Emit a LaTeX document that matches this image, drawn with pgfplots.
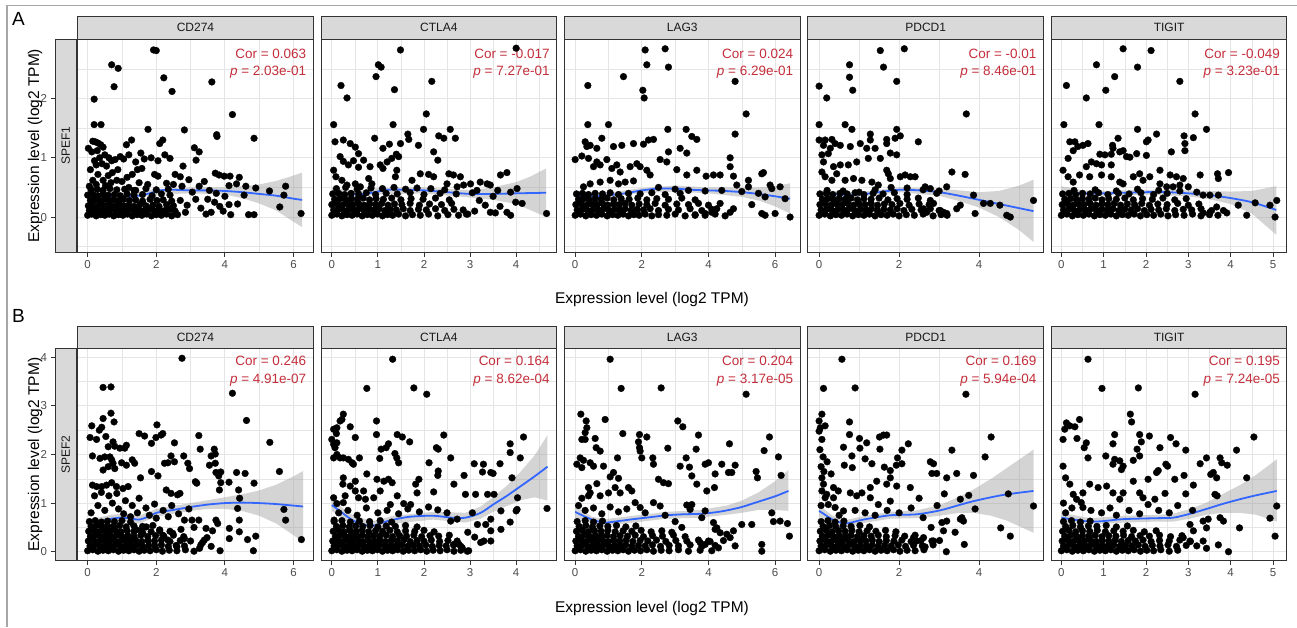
\documentclass[border=0pt]{standalone}
\usepackage{fontspec}
\setmainfont{Liberation Sans}
\usepackage{pgfplots}
\pgfplotsset{compat=1.18}

\definecolor{gg10}{gray}{0.1}
\definecolor{gg20}{gray}{0.2}
\definecolor{gg30}{gray}{0.3}
\definecolor{gg85}{gray}{0.85}
\definecolor{ggrid}{gray}{0.9}
\definecolor{gband}{gray}{0.6}
\definecolor{corred}{HTML}{C42F3C}
\definecolor{loess}{HTML}{3366FF}

\pgfplotsset{
  panel/.style={
    scale only axis, width=235.6pt, anchor=south west,
    axis line style={gg20, line width=0.9pt},
    grid=both,
    major grid style={ggrid, line width=0.9pt},
    minor grid style={ggrid, line width=0.45pt},
    tick align=outside, tick pos=left,
    major tick length=4.5pt, minor tick length=0pt,
    xtick style={gg20, line width=0.9pt},
    ytick style={draw=none},
    yticklabels={},
    tick label style={font=\fontsize{11.5}{13}\selectfont, text=gg30},
    /pgf/number format/assume math mode=true,
  },
  rowA/.style={panel, height=213pt, ymin=-0.595, ymax=3.0, ytick={0,1,2}, minor ytick={-0.5,0.5,1.5,2.5}},
  rowB/.style={panel, height=212.4pt, ymin=-0.185, ymax=4.185, ytick={0,1,2,3,4}, minor ytick={0.5,1.5,2.5,3.5}},
  g1/.style={xmin=-0.29, xmax=6.577, xtick={0,2,4,6}, minor xtick={1,3,5}},
  g2/.style={xmin=-0.232, xmax=4.88, xtick={0,1,2,3,4}, minor xtick={0.5,1.5,2.5,3.5,4.5}},
  g3/.style={xmin=-0.32, xmax=6.75, xtick={0,2,4,6}, minor xtick={1,3,5}},
  g4/.style={xmin=-0.28, xmax=5.61, xtick={0,2,4}, minor xtick={1,3,5}},
  g5/.style={xmin=-0.237, xmax=5.33, xtick={0,1,2,3,4,5}, minor xtick={0.5,1.5,2.5,3.5,4.5}},
  rowstrip/.style={
    scale only axis, anchor=south west, width=21.7pt, xmin=0, xmax=1, xtick=\empty,
    tick align=outside, ytick pos=left, major tick length=4.5pt,
    axis background/.style={fill=gg85},
    axis line style={gg20, line width=0.9pt},
    ytick style={gg20, line width=0.9pt},
    tick label style={font=\fontsize{11.5}{13}\selectfont, text=gg30},
    /pgf/number format/assume math mode=true,
  },
  pts/.style={only marks, mark=*, mark size=3.4pt, mark options={fill=black, draw=black, line width=0.3pt}},
  band/.style={draw=none, fill=gband, fill opacity=0.42},
  fit/.style={loess, line width=1.8pt, smooth, no markers},
}

\newcommand{\corA}[2]{%
  \node[anchor=east, inner sep=0pt, text=corred, font=\fontsize{13.5}{16}\selectfont] at (rel axis cs:0.971,0.931) {Cor = #1};
  \node[anchor=east, inner sep=0pt, text=corred, font=\fontsize{13.5}{16}\selectfont] at (rel axis cs:0.971,0.846) {\textit{p} = #2};}
\newcommand{\corB}[2]{%
  \node[anchor=east, inner sep=0pt, text=corred, font=\fontsize{13.5}{16}\selectfont] at (rel axis cs:0.971,0.940) {Cor = #1};
  \node[anchor=east, inner sep=0pt, text=corred, font=\fontsize{13.5}{16}\selectfont] at (rel axis cs:0.971,0.851) {\textit{p} = #2};}

\begin{document}
\begin{tikzpicture}
\useasboundingbox (0pt,0pt) rectangle (1297pt,627pt);
\fill[white] (0pt,0pt) rectangle (1297pt,627pt);
\draw[gray!70, line width=1.2pt] (1297pt,621.5pt) -- (7pt,621.5pt) -- (7pt,0pt);

% ---------------- row A : SPEF1 ----------------
\begin{axis}[rowstrip, at={(55pt,374.7pt)}, height=213pt, ymin=-0.595, ymax=3.0, ytick={0,1,2}]
\node[rotate=90, font=\fontsize{12}{14}\selectfont, text=gg10] at (rel axis cs:0.5,0.5) {SPEF1};
\end{axis}

\begin{axis}[rowA, g1, at={(77.7pt,374.7pt)}]
\addplot[pts] coordinates {
(0.00,0.03)(0.12,0.05)(0.25,0.02)(0.38,0.04)(0.50,0.03)(0.63,0.05)(0.76,0.02)(0.90,0.04)(1.03,0.03)(1.16,0.05)(1.30,0.02)(1.44,0.04)(1.58,0.03)(1.72,0.05)(1.86,0.02)(2.00,0.04)(2.15,0.03)(2.30,0.05)(2.45,0.02)(2.62,0.04)
(0.05,0.11)(0.18,0.12)(0.31,0.10)(0.44,0.12)(0.57,0.11)(0.70,0.13)(0.83,0.10)(0.96,0.12)(1.10,0.11)(1.24,0.13)(1.37,0.10)(1.50,0.12)(1.65,0.11)(1.80,0.13)(1.95,0.10)(2.10,0.12)(2.25,0.11)(2.40,0.13)(2.55,0.10)
(0.02,0.19)(0.14,0.20)(0.27,0.18)(0.40,0.21)(0.53,0.19)(0.66,0.20)(0.80,0.18)(0.93,0.21)(1.06,0.19)(1.20,0.20)(1.35,0.18)(1.52,0.21)(1.70,0.19)(1.90,0.20)(2.08,0.18)(2.30,0.21)(2.50,0.19)
(0.08,0.28)(0.22,0.29)(0.35,0.27)(0.48,0.30)(0.62,0.28)(0.76,0.29)(0.90,0.27)(1.05,0.30)(1.22,0.28)(1.40,0.29)(1.60,0.27)(1.82,0.30)(2.02,0.28)(2.20,0.29)(2.45,0.27)
(0.00,0.37)(0.16,0.38)(0.30,0.36)(0.45,0.39)(0.60,0.37)(0.78,0.38)(0.95,0.36)(1.15,0.39)(1.35,0.37)(1.60,0.38)(1.88,0.36)(2.15,0.39)(2.40,0.37)
(0.10,0.46)(0.28,0.47)(0.45,0.45)(0.65,0.48)(0.85,0.46)(1.08,0.47)(1.40,0.45)(1.70,0.48)(2.00,0.46)(2.35,0.47)
(1.92,2.82)(2.00,2.81)(0.70,2.57)(0.89,2.51)(0.77,2.20)(2.22,2.35)(2.46,2.12)(3.62,2.28)(0.19,1.99)(4.22,1.73)(0.19,1.56)(0.39,1.56)(1.76,1.48)(2.82,1.47)(3.76,1.39)(3.77,1.36)(4.85,1.33)(2.19,1.30)(2.10,1.24)(1.28,1.30)(1.13,1.22)
(0.02,1.16)(0.15,1.28)(0.22,1.27)(0.30,1.25)(0.38,1.22)(0.45,1.18)(0.12,1.10)(0.28,1.12)(0.50,1.05)(0.62,1.00)(0.35,1.00)(0.20,0.95)(0.08,0.80)(0.25,0.88)(0.42,0.90)(0.55,0.86)(0.70,0.95)(0.80,0.97)(0.95,1.02)(1.05,0.98)(1.20,1.05)(0.88,0.80)(0.72,0.75)(0.60,0.70)(0.30,0.72)(0.15,0.62)(0.45,0.62)(0.05,0.52)(0.25,0.55)(0.52,0.53)(0.68,0.58)(0.85,0.62)(1.00,0.60)(1.15,0.67)(1.30,0.72)(1.45,0.80)(1.58,0.82)(1.65,0.98)(1.55,1.08)(1.85,1.00)(2.05,0.95)(2.25,1.05)(2.40,0.99)(1.40,0.93)(1.95,0.72)(2.05,0.69)(2.55,0.72)(2.70,0.68)(2.78,0.86)(2.95,0.63)(2.75,0.52)(2.50,0.55)(2.30,0.57)(1.75,0.55)(1.50,0.58)(1.20,0.50)(1.35,0.45)
(3.11,1.17)(3.25,1.10)(3.16,0.96)(3.72,0.74)(3.83,0.71)(3.98,0.69)(4.15,0.69)(4.42,0.67)(4.12,0.53)(4.34,0.56)(4.61,0.52)(4.90,0.49)(5.30,0.44)(5.77,0.52)(5.72,0.37)(5.60,0.17)(6.22,0.06)(4.12,0.21)(4.37,0.22)(4.17,0.04)(4.69,0.04)(4.85,0.04)(4.56,0.37)(3.55,0.45)(3.40,0.60)(3.25,0.52)(3.50,0.30)(3.70,0.25)(3.85,0.18)(3.95,0.10)(3.60,0.08)(3.30,0.15)(3.15,0.30)(3.05,0.42)(2.90,0.20)(2.70,0.28)(2.85,0.08)(3.45,0.05)(3.75,0.40)(4.00,0.35)
};
\addplot[band] coordinates {(0,0.42)(1,0.39)(2,0.47)(3,0.50)(4,0.50)(4.5,0.52)(5,0.55)(5.5,0.61)(6,0.70)(6.25,0.75)
(6.25,-0.17)(6,-0.08)(5.5,0.11)(5,0.23)(4.5,0.32)(4,0.38)(3,0.40)(2,0.38)(1,0.31)(0,0.30)} -- cycle;
\addplot[fit] coordinates {(0,0.36)(0.5,0.35)(1.0,0.35)(1.5,0.36)(1.8,0.40)(2.1,0.45)(2.5,0.46)(3,0.45)(3.5,0.45)(4,0.44)(4.5,0.42)(5,0.39)(5.5,0.36)(6.0,0.31)(6.25,0.29)};
\corA{0.063}{2.03e-01}
\end{axis}

\begin{axis}[rowA, g2, at={(321.1pt,374.7pt)}]
\addplot[pts] coordinates {
(0.00,0.03)(0.11,0.05)(0.22,0.02)(0.33,0.04)(0.44,0.03)(0.55,0.05)(0.66,0.02)(0.77,0.04)(0.88,0.03)(0.99,0.05)(1.10,0.02)(1.21,0.04)(1.32,0.03)(1.45,0.05)(1.60,0.02)(1.75,0.04)(1.92,0.03)(2.10,0.05)(2.30,0.02)(2.52,0.04)(2.75,0.03)(2.92,0.05)
(0.04,0.12)(0.15,0.13)(0.26,0.11)(0.37,0.13)(0.48,0.12)(0.59,0.14)(0.70,0.11)(0.81,0.13)(0.92,0.12)(1.03,0.14)(1.15,0.11)(1.27,0.13)(1.40,0.12)(1.55,0.14)(1.70,0.11)(1.88,0.13)(2.05,0.12)(2.25,0.14)(2.45,0.11)(2.65,0.13)(2.85,0.12)
(0.00,0.21)(0.12,0.22)(0.23,0.20)(0.35,0.22)(0.46,0.21)(0.58,0.23)(0.70,0.20)(0.82,0.22)(0.95,0.21)(1.08,0.23)(1.22,0.20)(1.36,0.22)(1.52,0.21)(1.70,0.23)(1.90,0.20)(2.12,0.22)(2.38,0.21)(2.60,0.23)
(0.06,0.30)(0.18,0.31)(0.30,0.29)(0.42,0.31)(0.55,0.30)(0.68,0.32)(0.82,0.29)(0.96,0.31)(1.12,0.30)(1.30,0.32)(1.50,0.29)(1.72,0.31)(1.98,0.30)(2.25,0.32)(2.55,0.29)
(0.02,0.39)(0.15,0.40)(0.28,0.38)(0.42,0.40)(0.58,0.39)(0.75,0.41)(0.95,0.38)(1.18,0.40)(1.42,0.39)(1.70,0.41)(2.00,0.38)(2.35,0.40)(2.70,0.39)(3.05,0.41)
(1.49,2.82)(4.00,2.85)(1.01,2.57)(1.07,2.53)(0.96,2.37)(0.20,2.22)(2.17,2.29)(1.36,2.15)(0.33,2.01)(2.05,1.74)(0.04,1.56)(1.33,1.56)(1.99,1.48)(2.57,1.48)(1.65,1.40)(2.32,1.37)(2.43,1.33)(2.68,1.33)(0.93,1.33)
(0.07,1.27)(0.25,1.30)(0.40,1.24)(0.51,1.18)(0.58,1.07)(1.49,1.24)(1.25,1.23)(1.11,1.16)(1.67,1.31)(1.88,1.21)(2.21,1.10)(1.40,1.06)(1.45,1.02)(1.30,0.99)(1.20,0.93)(2.30,0.96)(0.18,1.02)(0.25,0.94)(0.36,0.88)(0.47,0.95)(0.69,0.96)(0.58,0.84)(0.83,0.85)(0.04,0.79)(0.09,0.68)(0.22,0.62)(1.05,0.88)(1.11,0.82)(1.41,0.79)(1.38,0.68)(1.74,0.62)(1.92,0.73)(2.10,0.72)(2.21,0.68)(2.54,0.73)(2.64,0.71)(2.79,0.68)(3.01,0.56)(3.22,0.59)(3.37,0.56)(3.66,0.71)(3.80,0.75)(3.44,0.54)(0.80,0.65)(0.87,0.56)
(2.50,0.56)(2.72,0.51)(2.86,0.54)(0.51,0.56)(0.62,0.51)(0.33,0.54)
(4.02,0.48)(3.88,0.42)(3.99,0.25)(4.13,0.23)(4.66,0.06)(3.88,0.03)(3.80,0.08)(3.44,0.08)(3.55,0.07)(3.33,0.20)(3.10,0.10)(3.20,0.28)(3.50,0.35)(3.65,0.18)(3.15,0.45)(2.95,0.05)(3.60,0.45)
(0.10,0.48)(0.30,0.50)(0.55,0.47)(0.85,0.49)(1.10,0.48)(1.35,0.50)(1.60,0.47)(1.85,0.49)(2.15,0.48)(2.45,0.46)
};
\addplot[band] coordinates {(0,0.50)(0.5,0.43)(1,0.49)(2,0.50)(3,0.45)(3.5,0.50)(4,0.59)(4.3,0.68)(4.65,0.82)
(4.65,0.0)(4.3,0.12)(4,0.22)(3.5,0.29)(3,0.33)(2,0.40)(1,0.38)(0.5,0.33)(0,0.34)} -- cycle;
\addplot[fit] coordinates {(0,0.42)(0.4,0.38)(0.8,0.40)(1.2,0.46)(1.6,0.46)(2,0.45)(2.5,0.42)(3,0.39)(3.5,0.39)(4,0.40)(4.65,0.41)};
\corA{-0.017}{7.27e-01}
\end{axis}

\begin{axis}[rowA, g3, at={(564.5pt,374.7pt)}]
\addplot[pts] coordinates {
(0.00,0.03)(0.16,0.05)(0.32,0.02)(0.48,0.04)(0.64,0.03)(0.80,0.05)(0.96,0.02)(1.12,0.04)(1.28,0.03)(1.44,0.05)(1.60,0.02)(1.76,0.04)(1.92,0.03)(2.10,0.05)(2.30,0.02)(2.50,0.04)(2.75,0.03)(3.00,0.05)(3.30,0.02)(3.60,0.04)(3.90,0.03)(4.20,0.05)(4.50,0.02)
(0.06,0.12)(0.22,0.13)(0.38,0.11)(0.54,0.13)(0.70,0.12)(0.86,0.14)(1.02,0.11)(1.18,0.13)(1.34,0.12)(1.50,0.14)(1.68,0.11)(1.86,0.13)(2.05,0.12)(2.25,0.14)(2.50,0.11)(2.80,0.13)(3.10,0.12)(3.45,0.14)(3.80,0.11)(4.10,0.13)
(0.02,0.21)(0.18,0.22)(0.34,0.20)(0.50,0.22)(0.66,0.21)(0.82,0.23)(0.98,0.20)(1.15,0.22)(1.32,0.21)(1.50,0.23)(1.70,0.20)(1.92,0.22)(2.15,0.21)(2.40,0.23)(2.70,0.20)(3.05,0.22)(3.40,0.21)(3.70,0.23)(4.00,0.20)
(0.10,0.30)(0.26,0.31)(0.42,0.29)(0.60,0.31)(0.78,0.30)(0.96,0.32)(1.16,0.29)(1.38,0.31)(1.62,0.30)(1.88,0.32)(2.15,0.29)(2.45,0.31)(2.80,0.30)(3.20,0.32)(3.60,0.29)
(0.04,0.39)(0.22,0.40)(0.40,0.38)(0.60,0.40)(0.82,0.39)(1.05,0.41)(1.30,0.38)(1.60,0.40)(1.95,0.39)(2.30,0.41)(2.70,0.38)(3.15,0.40)
(2.10,2.82)(2.70,2.84)(2.15,2.57)(2.80,2.53)(1.45,2.37)(4.80,2.29)(0.38,2.22)(2.03,2.14)(2.07,2.01)(5.13,1.74)(0.38,1.56)(1.00,1.56)(2.78,1.48)(3.33,1.48)(4.80,1.40)(3.50,1.36)(3.65,1.31)(0.30,1.27)(0.35,1.19)(0.45,1.21)(0.65,1.16)(0.80,1.33)(1.15,1.19)(1.40,1.21)(1.75,1.24)(2.05,1.23)(2.20,1.30)(2.35,1.31)(3.15,1.16)(3.35,1.08)(2.80,1.10)(2.55,0.97)(2.75,0.93)(4.65,1.00)(0.00,0.97)
(0.20,1.03)(0.40,0.99)(0.65,0.93)(0.75,0.88)(0.55,0.85)(0.95,0.97)(1.10,0.82)(1.25,0.88)(1.35,0.76)(1.65,0.85)(1.85,0.90)(1.95,0.85)(2.15,0.79)(2.25,0.71)(3.05,0.80)(3.35,0.71)(3.65,0.79)(3.93,0.69)(4.15,0.71)(4.35,0.71)(4.75,0.69)(5.20,0.62)(5.60,0.73)(5.65,0.75)(4.65,0.85)
(0.25,0.51)(0.45,0.56)(0.75,0.59)(1.05,0.62)(1.30,0.56)(1.50,0.59)(1.75,0.61)
(5.85,0.54)(5.90,0.48)(6.15,0.51)(6.30,0.31)(6.45,0.00)(6.00,0.06)(5.60,0.06)(5.70,0.03)(5.30,0.21)(4.75,0.14)(4.65,0.08)(4.25,0.14)(4.10,0.08)(4.35,0.23)(3.90,0.06)(3.60,0.03)(5.50,0.40)(5.70,0.34)(4.85,0.54)(5.20,0.51)
(2.50,0.50)(3.00,0.47)(3.40,0.45)(3.90,0.44)(4.40,0.45)(5.00,0.43)
};
\addplot[band] coordinates {(0,0.43)(1,0.41)(2,0.49)(3,0.53)(4,0.50)(5,0.50)(5.5,0.50)(6,0.52)(6.45,0.57)
(6.45,0.06)(6,0.18)(5.5,0.28)(5,0.34)(4,0.40)(3,0.43)(2,0.41)(1,0.33)(0,0.27)} -- cycle;
\addplot[fit] coordinates {(0,0.35)(0.5,0.35)(1,0.37)(1.5,0.40)(2,0.45)(2.5,0.48)(3,0.48)(3.5,0.46)(4,0.45)(4.5,0.44)(5,0.42)(5.5,0.39)(6,0.35)(6.45,0.31)};
\corA{0.024}{6.29e-01}
\end{axis}

\begin{axis}[rowA, g4, at={(807.9pt,374.7pt)}]
\addplot[pts] coordinates {
(0.00,0.03)(0.14,0.05)(0.28,0.02)(0.42,0.04)(0.56,0.03)(0.70,0.05)(0.84,0.02)(0.98,0.04)(1.12,0.03)(1.26,0.05)(1.40,0.02)(1.55,0.04)(1.70,0.03)(1.85,0.05)(2.00,0.02)(2.18,0.04)(2.38,0.03)(2.60,0.05)(2.85,0.02)(3.05,0.04)(3.20,0.03)
(0.05,0.12)(0.19,0.13)(0.33,0.11)(0.47,0.13)(0.61,0.12)(0.75,0.14)(0.89,0.11)(1.03,0.13)(1.17,0.12)(1.31,0.14)(1.46,0.11)(1.62,0.13)(1.78,0.12)(1.95,0.14)(2.12,0.11)(2.32,0.13)(2.55,0.12)(2.78,0.14)(3.00,0.11)
(0.02,0.21)(0.16,0.22)(0.30,0.20)(0.44,0.22)(0.58,0.21)(0.72,0.23)(0.86,0.20)(1.00,0.22)(1.15,0.21)(1.30,0.23)(1.46,0.20)(1.63,0.22)(1.82,0.21)(2.02,0.23)(2.25,0.20)(2.50,0.22)(2.75,0.21)
(0.08,0.30)(0.22,0.31)(0.36,0.29)(0.50,0.31)(0.65,0.30)(0.80,0.32)(0.96,0.29)(1.12,0.31)(1.30,0.30)(1.50,0.32)(1.72,0.29)(1.95,0.31)(2.20,0.30)(2.48,0.32)
(0.02,0.39)(0.18,0.40)(0.34,0.38)(0.52,0.40)(0.70,0.39)(0.90,0.41)(1.12,0.38)(1.35,0.40)(1.60,0.39)(1.88,0.41)(2.20,0.38)
(1.53,2.81)(2.13,2.84)(0.76,2.57)(0.76,2.36)(1.61,2.53)(0.00,2.21)(0.84,2.14)(1.94,2.29)(0.19,2.01)(3.68,1.74)(0.00,1.56)(0.65,1.56)(0.82,1.48)(1.94,1.48)(2.03,1.37)(1.90,1.33)(1.28,1.40)(1.28,1.30)(1.69,1.31)(1.69,1.24)(2.48,1.27)
(0.00,1.30)(0.15,1.30)(0.32,1.31)(0.40,1.24)(0.11,1.21)(0.28,1.16)(0.53,1.21)(0.78,1.19)(1.03,1.24)(1.19,1.16)(1.40,1.16)
(0.07,1.05)(0.23,1.07)(0.11,0.93)(0.36,0.85)(0.53,0.88)(0.73,0.88)(0.94,0.93)(1.23,0.99)(1.53,0.99)(1.78,1.08)(1.94,1.05)
(0.07,0.76)(0.15,0.68)(0.32,0.62)(0.44,0.73)(0.65,0.62)(0.86,0.65)(1.07,0.62)(1.32,0.59)(1.48,0.54)(1.69,0.79)(1.73,0.73)(1.78,0.65)
(2.03,0.68)(2.15,0.71)(2.28,0.68)(2.40,0.68)(3.32,0.76)(3.65,0.72)(3.19,0.51)(2.94,0.40)(2.65,0.51)(2.78,0.48)
(3.86,0.37)(4.11,0.23)(4.28,0.23)(4.52,0.20)(3.90,0.06)(4.69,0.03)(4.78,0.00)(5.36,0.28)(3.53,0.20)(3.44,0.14)(3.11,0.08)(3.19,0.06)(3.03,0.11)(2.86,0.23)(2.69,0.08)(2.61,0.14)(2.78,0.28)
(0.20,0.45)(0.60,0.44)(1.00,0.42)(1.40,0.46)(1.80,0.50)(2.20,0.49)(2.60,0.46)(3.00,0.44)
};
\addplot[band] coordinates {(0,0.45)(1,0.42)(2,0.50)(3,0.48)(3.5,0.45)(4,0.42)(4.5,0.44)(5,0.53)(5.36,0.63)
(5.36,-0.42)(5,-0.22)(4.5,0.00)(4,0.16)(3.5,0.27)(3,0.36)(2,0.42)(1,0.34)(0,0.35)} -- cycle;
\addplot[fit] coordinates {(0,0.40)(0.5,0.38)(1,0.38)(1.5,0.42)(2,0.46)(2.5,0.45)(3,0.42)(3.5,0.36)(4,0.29)(4.5,0.22)(5,0.15)(5.36,0.10)};
\corA{-0.01}{8.46e-01}
\end{axis}

\begin{axis}[rowA, g5, at={(1051.3pt,374.7pt)}]
\addplot[pts] coordinates {
(0.00,0.03)(0.13,0.05)(0.26,0.02)(0.39,0.04)(0.52,0.03)(0.65,0.05)(0.78,0.02)(0.91,0.04)(1.04,0.03)(1.17,0.05)(1.30,0.02)(1.44,0.04)(1.58,0.03)(1.72,0.05)(1.87,0.02)(2.02,0.04)(2.18,0.03)(2.35,0.05)(2.52,0.02)(2.70,0.04)(2.90,0.03)(3.10,0.05)(3.30,0.02)(3.50,0.04)(3.70,0.03)
(0.05,0.12)(0.18,0.13)(0.31,0.11)(0.44,0.13)(0.57,0.12)(0.70,0.14)(0.83,0.11)(0.96,0.13)(1.09,0.12)(1.22,0.14)(1.36,0.11)(1.50,0.13)(1.65,0.12)(1.80,0.14)(1.96,0.11)(2.12,0.13)(2.30,0.12)(2.48,0.14)(2.68,0.11)(2.88,0.13)(3.08,0.12)(3.30,0.14)(3.55,0.11)
(0.02,0.21)(0.15,0.22)(0.28,0.20)(0.41,0.22)(0.54,0.21)(0.68,0.23)(0.82,0.20)(0.96,0.22)(1.10,0.21)(1.25,0.23)(1.40,0.20)(1.56,0.22)(1.73,0.21)(1.90,0.23)(2.08,0.20)(2.28,0.22)(2.50,0.21)(2.75,0.23)(3.00,0.20)(3.25,0.22)
(0.08,0.30)(0.22,0.31)(0.36,0.29)(0.50,0.31)(0.65,0.30)(0.80,0.32)(0.96,0.29)(1.12,0.31)(1.30,0.30)(1.50,0.32)(1.70,0.29)(1.92,0.31)(2.15,0.30)(2.40,0.32)(2.68,0.29)(2.95,0.31)
(0.03,0.39)(0.18,0.40)(0.34,0.38)(0.50,0.40)(0.68,0.39)(0.88,0.41)(1.10,0.38)(1.35,0.40)(1.60,0.39)(1.88,0.41)(2.18,0.38)(2.50,0.40)
(1.46,2.84)(2.12,2.81)(0.83,2.57)(1.80,2.53)(1.26,2.37)(2.80,2.29)(0.12,2.22)(1.05,2.14)(0.59,2.01)(3.16,1.74)(0.06,1.56)(0.89,1.56)(1.80,1.48)(3.43,1.48)(2.25,1.40)(2.05,1.30)(2.01,1.27)(2.90,1.37)(2.92,1.24)(2.92,1.12)(3.12,1.34)(1.34,1.33)(1.21,1.21)(1.22,1.16)
(0.20,1.27)(0.32,1.27)(0.39,1.19)(0.51,1.21)(0.63,1.24)(0.28,1.12)(0.16,0.99)
(0.91,1.06)(1.03,1.05)(1.18,1.06)(1.38,1.10)(1.46,1.12)(1.54,1.02)(1.62,1.01)(1.78,1.07)(2.01,1.04)(2.60,1.10)
(0.83,0.90)(0.95,0.88)(1.18,0.88)(0.59,0.85)(0.71,0.93)
(0.04,0.79)(0.16,0.68)(0.28,0.59)(0.43,0.71)(0.67,0.68)(0.95,0.71)(1.18,0.68)(1.38,0.59)(1.46,0.56)(1.70,0.68)(1.85,0.73)(1.93,0.62)(2.09,0.68)(2.33,0.79)(2.57,0.71)(2.72,0.68)(2.88,0.65)(3.00,0.51)(3.28,0.71)(3.69,0.73)(3.71,0.65)(3.95,0.75)
(2.33,0.56)(2.49,0.51)(2.64,0.51)(2.80,0.54)
(3.35,0.37)(3.51,0.37)(3.71,0.37)(4.18,0.20)(4.38,0.03)(4.58,0.24)(4.93,0.20)(5.09,0.28)(5.05,0.00)(3.91,0.07)(3.83,0.11)(3.67,0.17)(3.51,0.08)(3.35,0.07)
(0.30,0.45)(0.80,0.46)(1.30,0.44)(1.80,0.47)(2.30,0.45)(2.80,0.44)(3.20,0.42)
};
\addplot[band] coordinates {(0,0.52)(0.5,0.45)(1,0.44)(2,0.46)(3,0.45)(3.5,0.44)(4,0.43)(4.5,0.44)(5.08,0.52)
(5.08,-0.30)(4.5,0.06)(4,0.22)(3.5,0.30)(3,0.35)(2,0.38)(1,0.36)(0.5,0.35)(0,0.30)} -- cycle;
\addplot[fit] coordinates {(0,0.40)(0.5,0.40)(1,0.40)(1.5,0.41)(2,0.42)(2.5,0.42)(3,0.40)(3.5,0.37)(4,0.32)(4.5,0.25)(5.08,0.12)};
\corA{-0.049}{3.23e-01}
\end{axis}

% ---------------- row B : SPEF2 ----------------
\begin{axis}[rowstrip, at={(55pt,66.3pt)}, height=212.4pt, ymin=-0.185, ymax=4.185, ytick={0,1,2,3,4}]
\node[rotate=90, font=\fontsize{12}{14}\selectfont, text=gg10] at (rel axis cs:0.5,0.5) {SPEF2};
\end{axis}

\begin{axis}[rowB, g1, at={(77.7pt,66.3pt)}]
\addplot[pts] coordinates {
(0.00,0.02)(0.15,0.04)(0.30,0.01)(0.45,0.03)(0.60,0.02)(0.75,0.04)(0.90,0.01)(1.05,0.03)(1.20,0.02)(1.35,0.04)(1.50,0.01)(1.65,0.03)(1.82,0.02)(2.00,0.04)(2.18,0.01)(2.38,0.03)(2.60,0.02)(2.85,0.04)(3.10,0.01)
(0.07,0.12)(0.22,0.14)(0.37,0.11)(0.52,0.13)(0.67,0.12)(0.82,0.14)(0.97,0.11)(1.12,0.13)(1.28,0.12)(1.44,0.14)(1.60,0.11)(1.78,0.13)(1.96,0.12)(2.15,0.14)(2.35,0.11)(2.58,0.13)(2.82,0.12)(3.30,0.14)(3.60,0.11)
(0.02,0.22)(0.17,0.24)(0.32,0.21)(0.47,0.23)(0.62,0.22)(0.77,0.24)(0.92,0.21)(1.08,0.23)(1.24,0.22)(1.40,0.24)(1.58,0.21)(1.76,0.23)(1.95,0.22)(2.15,0.24)(2.40,0.21)(2.70,0.23)(3.00,0.22)(3.40,0.24)
(0.08,0.32)(0.23,0.34)(0.38,0.31)(0.53,0.33)(0.68,0.32)(0.84,0.34)(1.00,0.31)(1.17,0.33)(1.35,0.32)(1.55,0.34)(1.75,0.31)(1.98,0.33)(2.22,0.32)(2.50,0.34)(2.80,0.31)
(0.03,0.42)(0.18,0.44)(0.33,0.41)(0.48,0.43)(0.64,0.42)(0.80,0.44)(0.97,0.41)(1.15,0.43)(1.35,0.42)(1.58,0.44)(1.85,0.41)(2.10,0.43)(2.40,0.42)
(0.10,0.52)(0.26,0.54)(0.42,0.51)(0.58,0.53)(0.75,0.52)(0.93,0.54)(1.12,0.51)(1.35,0.53)(1.60,0.52)(1.90,0.54)
(0.05,0.62)(0.22,0.64)(0.40,0.61)(0.58,0.63)(0.78,0.62)(1.00,0.64)(1.25,0.61)
(2.75,3.98)(4.22,3.26)(0.45,3.38)(0.68,3.39)(0.68,2.85)(0.77,2.67)(0.45,2.74)(4.63,2.70)(0.12,2.59)(0.34,2.50)(0.41,2.56)(2.02,2.61)(0.07,2.35)(5.31,2.25)(1.50,2.43)(1.66,2.38)(2.19,2.43)(2.14,2.40)(1.99,2.35)(1.86,2.23)(3.24,2.39)(2.53,2.24)
(0.26,2.31)(0.53,2.37)(0.60,2.16)(0.74,2.26)(0.79,2.17)(0.94,2.13)(1.08,2.13)(1.13,2.19)
(3.28,2.11)(3.69,2.11)(3.72,2.01)(0.14,1.97)(0.36,1.92)(0.50,1.95)(2.43,1.97)(2.53,1.85)(2.34,1.83)(2.24,1.82)(2.80,1.97)(2.92,1.82)(2.97,1.71)(3.60,1.97)(3.55,1.78)
(0.65,1.95)(0.70,1.89)(0.74,1.82)(0.60,1.75)(0.45,1.68)(0.79,1.71)(0.99,1.83)(1.13,1.78)(1.30,1.89)(1.37,1.82)
(1.86,1.65)(2.05,1.56)(3.72,1.82)(3.74,1.63)(3.82,1.56)(3.88,1.64)(5.59,1.65)(3.14,1.44)(3.18,1.41)(4.59,1.61)(4.34,1.63)(4.85,1.41)
(0.14,1.37)(0.26,1.34)(0.41,1.34)(0.55,1.37)(0.70,1.42)(0.84,1.34)(1.03,1.30)(1.18,1.34)
(1.54,1.52)(2.29,1.27)(2.43,1.20)(2.62,1.17)(2.69,1.20)(3.84,1.27)(3.88,1.42)(4.12,1.43)(4.40,1.27)(4.43,1.10)(4.37,0.89)(5.72,0.87)(5.77,0.65)(6.23,0.25)(4.83,0.02)(4.90,0.32)(4.66,0.25)
(4.42,0.41)(4.13,0.48)(4.13,0.27)(4.42,0.65)(3.74,0.65)(3.79,0.58)(3.64,0.43)(3.48,0.29)(3.35,0.19)(3.26,0.07)(3.86,0.02)
(3.24,0.65)(3.04,0.65)(2.82,0.65)(2.72,0.46)(2.82,0.27)(2.48,0.38)(2.34,0.24)(2.19,0.34)(2.10,0.45)(2.00,0.69)(1.71,0.51)(1.61,0.38)(1.42,0.45)(1.32,0.24)
(0.10,0.80)(0.30,0.95)(0.50,0.85)(0.72,1.00)(0.90,0.88)(1.10,1.05)(1.30,0.95)(1.50,1.10)(1.70,0.90)(1.95,0.98)(2.20,0.85)(2.45,0.95)(2.65,0.78)(0.20,1.15)(0.40,1.22)(0.62,1.15)(0.85,1.20)(1.05,0.78)(1.25,0.72)(1.45,0.80)(1.80,0.75)(2.35,0.72)(2.95,0.88)(3.10,0.50)(2.60,0.10)(3.45,0.48)
};
\addplot[band] coordinates {(0,0.62)(0.3,0.70)(0.7,0.76)(1,0.78)(1.5,0.74)(2,0.88)(2.5,0.94)(3,1.00)(3.5,1.06)(4,1.12)(4.5,1.18)(5,1.26)(5.5,1.38)(6,1.55)(6.28,1.66)
(6.28,0.20)(6,0.34)(5.5,0.58)(5,0.74)(4.5,0.84)(4,0.88)(3.5,0.88)(3,0.84)(2.5,0.78)(2,0.72)(1.5,0.58)(1,0.62)(0.7,0.60)(0.3,0.50)(0,0.24)} -- cycle;
\addplot[fit] coordinates {(0,0.43)(0.3,0.60)(0.7,0.68)(1.0,0.70)(1.3,0.68)(1.5,0.66)(1.8,0.73)(2,0.80)(2.5,0.86)(3,0.92)(3.5,0.97)(4,1.00)(4.5,1.01)(5,1.00)(5.5,0.98)(6.28,0.93)};
\corB{0.246}{4.91e-07}
\end{axis}

\begin{axis}[rowB, g2, at={(321.1pt,66.3pt)}]
\addplot[pts] coordinates {
(0.00,0.02)(0.11,0.04)(0.22,0.01)(0.33,0.03)(0.44,0.02)(0.55,0.04)(0.66,0.01)(0.77,0.03)(0.88,0.02)(0.99,0.04)(1.10,0.01)(1.21,0.03)(1.32,0.02)(1.43,0.04)(1.55,0.01)(1.67,0.03)(1.80,0.02)(1.93,0.04)(2.06,0.01)(2.20,0.03)(2.35,0.02)(2.50,0.04)(2.65,0.01)(2.80,0.03)(2.97,0.02)
(0.05,0.12)(0.16,0.14)(0.27,0.11)(0.38,0.13)(0.49,0.12)(0.60,0.14)(0.71,0.11)(0.82,0.13)(0.93,0.12)(1.04,0.14)(1.16,0.11)(1.28,0.13)(1.40,0.12)(1.52,0.14)(1.64,0.11)(1.77,0.13)(1.90,0.12)(2.04,0.14)(2.18,0.11)(2.33,0.13)(2.48,0.12)(2.64,0.14)(2.80,0.11)
(0.02,0.22)(0.13,0.24)(0.24,0.21)(0.35,0.23)(0.46,0.22)(0.57,0.24)(0.68,0.21)(0.80,0.23)(0.92,0.22)(1.04,0.24)(1.16,0.21)(1.29,0.23)(1.42,0.22)(1.56,0.24)(1.70,0.21)(1.85,0.23)(2.00,0.22)(2.16,0.24)(2.34,0.21)(2.52,0.23)(2.72,0.22)
(0.08,0.32)(0.19,0.34)(0.30,0.31)(0.42,0.33)(0.54,0.32)(0.66,0.34)(0.78,0.31)(0.91,0.33)(1.04,0.32)(1.18,0.34)(1.32,0.31)(1.47,0.33)(1.62,0.32)(1.78,0.34)(1.95,0.31)(2.13,0.33)(2.32,0.32)(2.55,0.34)
(0.03,0.42)(0.15,0.44)(0.27,0.41)(0.40,0.43)(0.53,0.42)(0.66,0.44)(0.80,0.41)(0.95,0.43)(1.10,0.42)(1.26,0.44)(1.42,0.41)(1.60,0.43)(1.80,0.42)(2.00,0.44)(2.22,0.41)
(0.10,0.52)(0.24,0.54)(0.38,0.51)(0.52,0.53)(0.67,0.52)(0.83,0.54)(1.00,0.51)(1.18,0.53)(1.38,0.52)(1.60,0.54)(1.85,0.51)
(0.05,0.62)(0.22,0.64)(0.40,0.61)(0.60,0.63)(0.82,0.62)(1.05,0.64)(1.30,0.61)
(1.32,3.96)(0.76,3.36)(1.78,3.37)(2.06,3.24)(0.25,2.83)(0.22,2.72)(0.18,2.69)(0.11,2.55)(0.04,2.52)(0.00,2.31)(0.97,2.69)(0.97,2.41)(0.40,2.57)(0.51,2.35)(0.10,2.43)(0.04,2.21)(0.11,2.24)(0.07,2.14)(1.42,2.41)(1.53,2.36)(1.69,2.26)(1.23,2.22)(1.18,2.14)(2.43,2.40)(1.07,2.11)(1.04,1.92)(2.27,2.14)(2.31,2.11)(2.58,1.93)
(0.04,1.93)(0.11,2.00)(0.18,1.93)(0.25,1.93)(0.36,1.90)(0.44,1.83)(0.47,1.80)(0.60,1.93)
(1.37,2.02)(1.41,1.93)(1.45,1.83)(2.11,1.83)(2.31,1.66)(2.30,1.57)(3.09,1.81)(3.29,1.80)(3.27,1.64)(3.45,1.63)(3.50,1.61)(3.65,1.81)(3.87,2.22)(3.87,2.04)(4.16,2.36)(4.09,1.93)(2.87,1.57)(3.91,1.52)(4.67,0.89)
(0.25,1.52)(0.24,1.39)(0.40,1.35)(0.51,1.45)(0.76,1.60)(0.98,1.49)(1.13,1.45)(1.23,1.49)(1.31,1.42)
(1.89,1.49)(1.82,1.39)(2.21,1.23)(2.65,1.39)(2.90,1.18)(3.12,1.18)(3.52,1.18)(3.38,1.18)
(0.04,1.11)(0.11,0.99)(0.29,1.15)(0.25,1.01)(0.51,1.25)(0.58,1.11)(0.69,1.25)(0.73,1.08)(0.91,1.11)(1.05,1.25)(1.27,0.97)(1.42,1.15)(1.56,0.99)(1.71,0.97)(1.85,1.21)
(4.03,1.11)(4.02,0.87)(4.00,0.84)(3.87,0.61)(3.67,0.84)(3.45,0.67)(3.34,0.56)(3.16,0.56)(3.05,0.80)(2.72,0.67)(2.58,0.63)
(3.67,0.46)(3.45,0.43)(3.30,0.22)(3.23,0.19)(3.45,0.22)(2.94,0.01)(2.83,0.08)(2.76,0.15)(2.65,0.15)
(0.15,0.80)(0.35,0.85)(0.55,0.75)(0.75,0.90)(1.00,0.80)(1.20,0.85)(1.45,0.78)(1.65,0.88)(1.90,0.82)(2.10,0.92)(2.30,0.86)(2.50,0.80)(0.05,0.65)(2.95,0.40)(3.10,0.30)
};
\addplot[band] coordinates {(0,1.08)(0.4,0.78)(0.87,0.62)(1.34,0.74)(2.2,0.82)(2.9,0.80)(3.23,0.93)(3.5,1.12)(3.8,1.36)(4.1,1.65)(4.4,1.98)(4.68,2.40)
(4.68,1.05)(4.4,1.12)(4.1,1.06)(3.8,0.94)(3.5,0.82)(3.23,0.68)(2.9,0.60)(2.2,0.66)(1.34,0.58)(0.87,0.44)(0.4,0.58)(0,0.84)} -- cycle;
\addplot[fit] coordinates {(0,0.96)(0.2,0.82)(0.4,0.68)(0.6,0.58)(0.87,0.53)(1.1,0.60)(1.34,0.66)(1.7,0.72)(2.2,0.74)(2.6,0.70)(2.9,0.70)(3.23,0.80)(3.5,0.97)(3.8,1.15)(4.1,1.35)(4.4,1.55)(4.68,1.75)};
\corB{0.164}{8.62e-04}
\end{axis}

\begin{axis}[rowB, g3, at={(564.5pt,66.3pt)}]
\addplot[pts] coordinates {
(0.00,0.02)(0.16,0.04)(0.32,0.01)(0.48,0.03)(0.64,0.02)(0.80,0.04)(0.96,0.01)(1.12,0.03)(1.28,0.02)(1.44,0.04)(1.60,0.01)(1.78,0.03)(1.96,0.02)(2.15,0.04)(2.35,0.01)(2.58,0.03)(2.82,0.02)(3.10,0.04)(3.40,0.01)(3.75,0.03)(4.10,0.02)
(0.06,0.12)(0.22,0.14)(0.38,0.11)(0.54,0.13)(0.70,0.12)(0.86,0.14)(1.02,0.11)(1.18,0.13)(1.35,0.12)(1.52,0.14)(1.70,0.11)(1.90,0.13)(2.10,0.12)(2.32,0.14)(2.56,0.11)(2.82,0.13)(3.10,0.12)(3.45,0.14)(3.80,0.11)(4.20,0.13)
(0.02,0.22)(0.18,0.24)(0.34,0.21)(0.50,0.23)(0.66,0.22)(0.82,0.24)(0.99,0.21)(1.16,0.23)(1.34,0.22)(1.53,0.24)(1.73,0.21)(1.95,0.23)(2.18,0.22)(2.44,0.24)(2.72,0.21)(3.02,0.23)(3.35,0.22)(3.70,0.24)(4.05,0.21)(4.45,0.23)
(0.10,0.32)(0.27,0.34)(0.44,0.31)(0.61,0.33)(0.78,0.32)(0.96,0.34)(1.15,0.31)(1.35,0.33)(1.57,0.32)(1.80,0.34)(2.05,0.31)(2.32,0.33)(2.62,0.32)(2.95,0.34)(3.30,0.31)
(0.04,0.42)(0.22,0.44)(0.40,0.41)(0.58,0.43)(0.78,0.42)(0.98,0.44)(1.20,0.41)(1.44,0.43)(1.70,0.42)(1.98,0.44)(2.28,0.41)(2.60,0.43)
(0.12,0.52)(0.32,0.54)(0.52,0.51)(0.74,0.53)(0.98,0.52)(1.24,0.54)(1.52,0.51)(1.82,0.53)
(0.06,0.62)(0.30,0.64)(0.55,0.61)(0.82,0.63)
(1.05,3.96)(1.38,3.36)(2.58,3.37)(5.13,3.24)(0.17,2.83)(0.33,2.69)(0.35,2.55)(0.30,2.45)(0.20,2.31)(0.30,2.31)(0.90,2.72)(3.08,2.69)(3.23,2.57)(1.43,2.43)(1.93,2.41)(2.15,2.36)(1.90,2.26)(0.60,2.33)(0.63,2.14)(0.75,2.07)(3.70,2.40)(4.63,2.22)(5.83,2.36)(2.78,2.13)
(1.93,2.14)(1.95,2.07)(2.00,1.93)(2.33,1.93)(2.35,1.80)
(3.63,2.11)(3.33,1.93)(3.90,1.80)(4.00,1.83)(5.67,2.08)(6.10,1.95)
(0.05,1.80)(0.15,1.93)(0.25,1.88)(0.45,1.83)(0.55,1.76)(0.20,1.73)
(0.85,1.76)(1.27,1.93)(1.15,1.63)(1.05,1.54)(1.30,1.51)
(4.40,1.80)(4.80,1.78)(4.70,1.63)(4.60,1.63)(4.20,1.60)
(3.15,1.76)(3.43,1.74)(3.50,1.56)(2.65,1.42)(2.80,1.40)(2.50,1.49)
(5.43,1.65)(5.47,1.52)(6.18,1.57)(3.65,1.39)(3.95,1.25)(4.18,1.32)
(0.40,1.32)(0.45,1.21)(0.40,1.15)(0.75,1.15)(1.00,1.21)(1.20,1.32)(1.35,1.21)(1.60,1.32)(1.70,1.25)
(1.80,1.01)(1.95,0.91)(2.35,1.01)(2.55,0.94)(3.35,0.96)(3.50,0.97)
(5.90,0.80)(5.95,0.62)(6.15,0.63)(6.37,0.58)(6.43,0.32)(5.30,0.56)(5.00,0.56)(5.60,0.15)(5.60,0.01)
(4.80,0.12)(4.65,0.29)(4.35,0.39)(4.55,0.36)(4.75,0.43)(4.20,0.46)(4.00,0.22)(3.90,0.15)(3.75,0.19)(4.30,0.08)
(4.15,0.60)(4.25,0.49)(3.80,0.70)(3.90,0.84)(3.45,0.87)
(0.10,0.95)(0.30,0.85)(0.55,0.90)(0.80,0.78)(1.05,0.92)(1.30,0.82)(1.55,0.88)(2.10,0.80)(2.70,0.75)(3.00,0.62)(3.20,0.50)(2.90,0.40)(0.20,1.10)(0.65,1.40)
};
\addplot[band] coordinates {(0,0.94)(0.5,0.72)(0.9,0.67)(1.75,0.74)(2.75,0.82)(3.75,0.86)(4.55,0.95)(5,1.05)(5.5,1.22)(6,1.45)(6.4,1.68)
(6.4,0.84)(6,0.86)(5.5,0.86)(5,0.80)(4.55,0.76)(3.75,0.70)(2.75,0.68)(1.75,0.60)(0.9,0.53)(0.5,0.58)(0,0.70)} -- cycle;
\addplot[fit] coordinates {(0,0.82)(0.3,0.72)(0.6,0.64)(0.9,0.60)(1.3,0.63)(1.75,0.67)(2.25,0.71)(2.75,0.75)(3.25,0.77)(3.75,0.78)(4.2,0.81)(4.55,0.85)(5,0.92)(5.5,1.03)(6,1.14)(6.4,1.25)};
\corB{0.204}{3.17e-05}
\end{axis}

\begin{axis}[rowB, g4, at={(807.9pt,66.3pt)}]
\addplot[pts] coordinates {
(0.00,0.02)(0.14,0.04)(0.28,0.01)(0.42,0.03)(0.56,0.02)(0.70,0.04)(0.84,0.01)(0.98,0.03)(1.12,0.02)(1.26,0.04)(1.40,0.01)(1.55,0.03)(1.70,0.02)(1.86,0.04)(2.02,0.01)(2.20,0.03)(2.40,0.02)(2.62,0.04)
(0.05,0.12)(0.19,0.14)(0.33,0.11)(0.47,0.13)(0.61,0.12)(0.75,0.14)(0.89,0.11)(1.03,0.13)(1.18,0.12)(1.33,0.14)(1.48,0.11)(1.64,0.13)(1.80,0.12)(1.98,0.14)(2.16,0.11)(2.36,0.13)(2.58,0.12)(2.85,0.14)
(0.02,0.22)(0.16,0.24)(0.30,0.21)(0.44,0.23)(0.58,0.22)(0.72,0.24)(0.87,0.21)(1.02,0.23)(1.17,0.22)(1.33,0.24)(1.50,0.21)(1.68,0.23)(1.87,0.22)(2.07,0.24)(2.30,0.21)(2.55,0.23)(2.82,0.22)
(0.08,0.32)(0.22,0.34)(0.36,0.31)(0.50,0.33)(0.65,0.32)(0.80,0.34)(0.96,0.31)(1.12,0.33)(1.30,0.32)(1.48,0.34)(1.68,0.31)(1.90,0.33)(2.14,0.32)(2.40,0.34)
(0.03,0.42)(0.18,0.44)(0.33,0.41)(0.49,0.43)(0.65,0.42)(0.82,0.44)(1.00,0.41)(1.20,0.43)(1.42,0.42)(1.66,0.44)(1.92,0.41)
(0.10,0.52)(0.26,0.54)(0.42,0.51)(0.60,0.53)(0.80,0.52)(1.02,0.54)(1.26,0.51)
(0.05,0.62)(0.22,0.64)(0.40,0.61)(0.62,0.63)
(0.57,3.96)(0.11,3.36)(0.90,3.37)(3.67,3.24)(0.07,2.83)(0.00,2.69)(0.03,2.55)(0.15,2.59)(0.00,2.48)(0.07,2.31)(0.76,2.67)(0.76,2.41)(1.01,2.33)(1.19,2.24)(1.02,2.13)(0.61,2.15)(0.82,1.97)(0.63,1.78)(0.83,1.73)(1.51,2.36)(1.61,2.40)(1.69,2.40)(1.52,2.11)(4.30,2.36)(2.23,2.22)(2.07,2.09)(1.15,1.91)(1.32,1.81)(1.96,1.93)(1.93,1.78)(2.07,1.81)(1.63,1.74)(1.78,1.67)(3.32,2.09)(4.15,1.95)(2.78,1.85)(2.86,1.81)(2.82,1.61)(2.94,1.61)(3.19,1.52)(3.44,1.61)(3.86,1.57)
(1.44,1.45)(1.78,1.52)(1.69,1.39)(1.94,1.35)(2.28,1.32)
(3.13,1.19)(3.53,1.08)(3.74,1.16)(3.90,0.88)(4.73,1.19)(5.36,0.94)(4.54,0.49)(4.78,0.32)(3.18,0.00)(3.63,0.15)
(3.53,0.67)(3.57,0.70)(3.61,0.63)(3.19,0.63)(3.07,0.60)(3.11,0.43)(2.86,0.22)(3.01,0.23)(2.65,0.10)(2.44,0.22)(2.36,0.29)(2.61,0.29)
(0.07,1.52)(0.11,1.39)(0.07,1.25)(0.19,1.18)(0.36,1.32)(0.48,1.25)(0.36,1.11)(0.15,1.11)(0.23,0.97)(0.40,0.91)(0.61,0.84)(0.78,1.21)(0.94,1.15)(1.07,1.21)(1.28,1.11)(1.48,0.97)(1.78,1.04)(1.28,1.32)
(0.05,1.75)(0.10,1.95)(0.02,2.10)(0.12,1.65)(0.20,1.85)(0.30,1.60)(0.05,0.95)(0.50,0.75)(0.90,0.85)(1.15,0.80)(1.40,0.75)(1.70,0.85)(2.00,0.80)(2.30,0.90)(2.60,0.70)(2.80,0.50)(3.40,0.40)(2.95,0.95)(2.50,1.10)
};
\addplot[band] coordinates {(0,0.96)(0.32,0.75)(0.65,0.65)(1.1,0.73)(1.78,0.82)(2.44,0.85)(3.02,0.96)(3.5,1.13)(3.86,1.28)(4.3,1.50)(4.69,1.72)(5.36,2.10)
(5.36,0.39)(4.69,0.64)(4.3,0.74)(3.86,0.80)(3.5,0.80)(3.02,0.74)(2.44,0.69)(1.78,0.68)(1.1,0.59)(0.65,0.50)(0.32,0.59)(0,0.72)} -- cycle;
\addplot[fit] coordinates {(0,0.84)(0.15,0.76)(0.32,0.67)(0.65,0.58)(1.1,0.66)(1.78,0.75)(2.44,0.77)(3.02,0.85)(3.5,0.96)(3.86,1.04)(4.3,1.12)(4.69,1.18)(5.36,1.25)};
\corB{0.169}{5.94e-04}
\end{axis}

\begin{axis}[rowB, g5, at={(1051.3pt,66.3pt)}]
\addplot[pts] coordinates {
(0.00,0.02)(0.13,0.04)(0.26,0.01)(0.39,0.03)(0.52,0.02)(0.65,0.04)(0.78,0.01)(0.91,0.03)(1.04,0.02)(1.17,0.04)(1.30,0.01)(1.44,0.03)(1.58,0.02)(1.72,0.04)(1.87,0.01)(2.02,0.03)(2.18,0.02)(2.35,0.04)(2.55,0.01)(2.75,0.03)
(0.05,0.12)(0.18,0.14)(0.31,0.11)(0.44,0.13)(0.57,0.12)(0.70,0.14)(0.83,0.11)(0.96,0.13)(1.10,0.12)(1.24,0.14)(1.38,0.11)(1.52,0.13)(1.67,0.12)(1.82,0.14)(1.98,0.11)(2.15,0.13)(2.33,0.12)(2.52,0.14)(2.72,0.11)(2.95,0.13)(3.20,0.12)
(0.02,0.22)(0.15,0.24)(0.28,0.21)(0.41,0.23)(0.55,0.22)(0.69,0.24)(0.83,0.21)(0.97,0.23)(1.12,0.22)(1.27,0.24)(1.42,0.21)(1.58,0.23)(1.75,0.22)(1.93,0.24)(2.12,0.21)(2.32,0.23)(2.55,0.22)(2.80,0.24)(3.05,0.21)
(0.08,0.32)(0.22,0.34)(0.36,0.31)(0.50,0.33)(0.65,0.32)(0.80,0.34)(0.96,0.31)(1.12,0.33)(1.29,0.32)(1.47,0.34)(1.66,0.31)(1.86,0.33)(2.08,0.32)(2.32,0.34)(2.58,0.31)(2.85,0.33)
(0.03,0.42)(0.18,0.44)(0.34,0.41)(0.50,0.43)(0.67,0.42)(0.85,0.44)(1.04,0.41)(1.24,0.43)(1.46,0.42)(1.70,0.44)(1.96,0.41)(2.24,0.43)
(0.10,0.52)(0.27,0.54)(0.45,0.51)(0.64,0.53)(0.84,0.52)(1.06,0.54)(1.30,0.51)(1.56,0.53)
(0.05,0.62)(0.24,0.64)(0.45,0.61)(0.68,0.63)
(0.63,3.96)(0.96,3.36)(1.82,3.37)(3.16,3.24)(1.63,2.83)(1.66,2.67)(0.12,2.65)(0.20,2.59)(0.32,2.57)(0.43,2.72)(0.08,2.52)(0.04,2.31)(1.26,2.41)(1.22,2.22)(1.85,2.41)(2.08,2.38)(2.58,2.35)(4.55,2.36)(2.33,2.14)(2.71,2.22)(2.94,2.09)(4.14,2.09)(1.79,2.11)(1.89,2.26)(0.37,2.33)(0.59,2.24)(0.54,2.14)(0.63,1.93)
(1.05,1.97)(1.26,1.90)(1.38,1.87)(1.70,1.88)(1.85,1.97)(1.46,1.76)(1.22,1.80)(1.42,1.69)
(2.47,1.80)(2.51,1.76)(2.29,1.67)(2.25,1.63)(2.05,1.49)(3.43,1.93)(3.75,1.93)(3.79,1.83)(3.92,1.78)(3.28,1.81)(3.59,1.63)(3.53,1.59)(3.67,1.52)(2.68,1.49)(2.90,1.57)(3.12,1.37)(2.94,1.19)(4.38,1.52)(3.63,1.18)(3.68,1.15)
(0.04,1.76)(0.10,1.52)(0.20,1.39)(0.28,1.18)(0.36,1.08)(0.51,1.21)(0.47,1.01)(0.51,0.91)
(0.67,1.39)(0.87,1.32)(1.07,1.35)(1.22,1.21)(1.38,1.08)(1.46,1.21)(1.70,1.45)(1.85,1.21)(1.93,1.11)(2.05,0.97)(2.21,1.08)
(4.93,0.69)(5.09,0.94)(5.05,0.32)(4.21,0.49)(3.71,0.14)(3.95,0.00)(3.43,0.07)(3.35,0.22)
(3.75,0.70)(3.83,0.63)(3.35,0.63)(3.47,0.67)(3.43,0.49)(3.04,0.56)(3.12,0.43)(2.88,0.29)(3.04,0.22)
(0.10,0.80)(0.25,0.90)(0.70,0.85)(0.95,0.80)(1.15,0.90)(1.60,0.85)(1.85,0.78)(2.30,0.85)(2.55,0.80)(2.75,0.95)(3.10,0.85)(0.05,1.00)(2.45,1.20)(1.30,0.75)
};
\addplot[band] coordinates {(0,0.80)(0.67,0.69)(1.46,0.74)(2.25,0.76)(2.64,0.78)(3.04,0.88)(3.43,1.01)(3.8,1.18)(4.22,1.37)(4.6,1.58)(5.09,1.90)
(5.09,0.62)(4.6,0.76)(4.22,0.80)(3.8,0.80)(3.43,0.76)(3.04,0.68)(2.64,0.62)(2.25,0.62)(1.46,0.60)(0.67,0.55)(0,0.60)} -- cycle;
\addplot[fit] coordinates {(0,0.70)(0.3,0.66)(0.67,0.62)(1.0,0.63)(1.46,0.67)(2.25,0.69)(2.64,0.70)(3.04,0.78)(3.43,0.88)(3.8,0.98)(4.22,1.08)(4.6,1.16)(5.09,1.25)};
\corB{0.195}{7.24e-05}
\end{axis}

% ---------------- strips, titles ----------------
\foreach \x/\g in {77.7/CD274, 321.1/CTLA4, 564.5/LAG3, 807.9/PDCD1, 1051.3/TIGIT} {
  \draw[fill=gg85, draw=gg20, line width=0.9pt] ({\x*1pt},587.7pt) rectangle ({(\x+235.6)*1pt},611pt);
  \node[font=\fontsize{12}{14}\selectfont, text=gg10] at ({(\x+117.8)*1pt},599.35pt) {\g};
  \draw[fill=gg85, draw=gg20, line width=0.9pt] ({\x*1pt},278.7pt) rectangle ({(\x+235.6)*1pt},301pt);
  \node[font=\fontsize{12}{14}\selectfont, text=gg10] at ({(\x+117.8)*1pt},289.85pt) {\g};
}

\node[anchor=base, rotate=90, font=\fontsize{15.5}{18}\selectfont] at (39pt,481.2pt) {Expression level (log2 TPM)};
\node[anchor=base, rotate=90, font=\fontsize{15.5}{18}\selectfont] at (39pt,172.5pt) {Expression level (log2 TPM)};
\node[anchor=base, font=\fontsize{15.5}{18}\selectfont] at (652pt,323.5pt) {Expression level (log2 TPM)};
\node[anchor=base, font=\fontsize{15.5}{18}\selectfont] at (652pt,14.5pt) {Expression level (log2 TPM)};
\node[anchor=base west, inner sep=0pt, font=\fontsize{19}{22}\selectfont] at (12pt,601pt) {A};
\node[anchor=base west, inner sep=0pt, font=\fontsize{19}{22}\selectfont] at (12pt,305pt) {B};
\end{tikzpicture}
\end{document}
